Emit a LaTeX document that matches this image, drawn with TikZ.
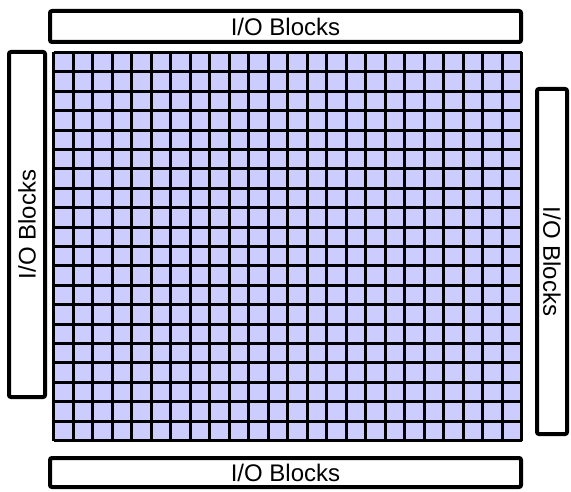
\documentclass[tikz,border=0pt]{standalone}
\usepackage{fontspec}
\setmainfont{Liberation Sans}
\definecolor{cellblue}{HTML}{CCCCFF}
\begin{document}
\begin{tikzpicture}[x=1pt, y=1pt,
    iobox/.style={draw, line width=4pt, rounded corners=2pt, inner sep=0pt, font=\fontsize{24}{28}\selectfont},
    gridline/.style={line width=3pt, black}]
  \useasboundingbox (0,0) rectangle (571,491);
  \fill[cellblue] (53.5,50.5) rectangle (521.5,438.5);
  \foreach \i in {0,...,24}
    \draw[gridline] ({53.5+round(19.5*\i)},50.5) -- ({53.5+round(19.5*\i)},438.5);
  \foreach \j in {0,...,20}
    \draw[gridline] (53.5,{50.5+round(19.4*\j)}) -- (521.5,{50.5+round(19.4*\j)});
  \node[iobox, minimum width=471pt, minimum height=31pt] (top) at (285.5,464.5) {I/O Blocks};
  \node[iobox, minimum width=471pt, minimum height=29pt] (bottom) at (285.5,18.5) {I/O Blocks};
  \node[iobox, rotate=90, minimum width=345pt, minimum height=36pt] (left) at (27,266.5) {I/O Blocks};
  \node[iobox, rotate=-90, minimum width=345pt, minimum height=30pt] (right) at (552,229.5) {I/O Blocks};
\end{tikzpicture}
\end{document}
